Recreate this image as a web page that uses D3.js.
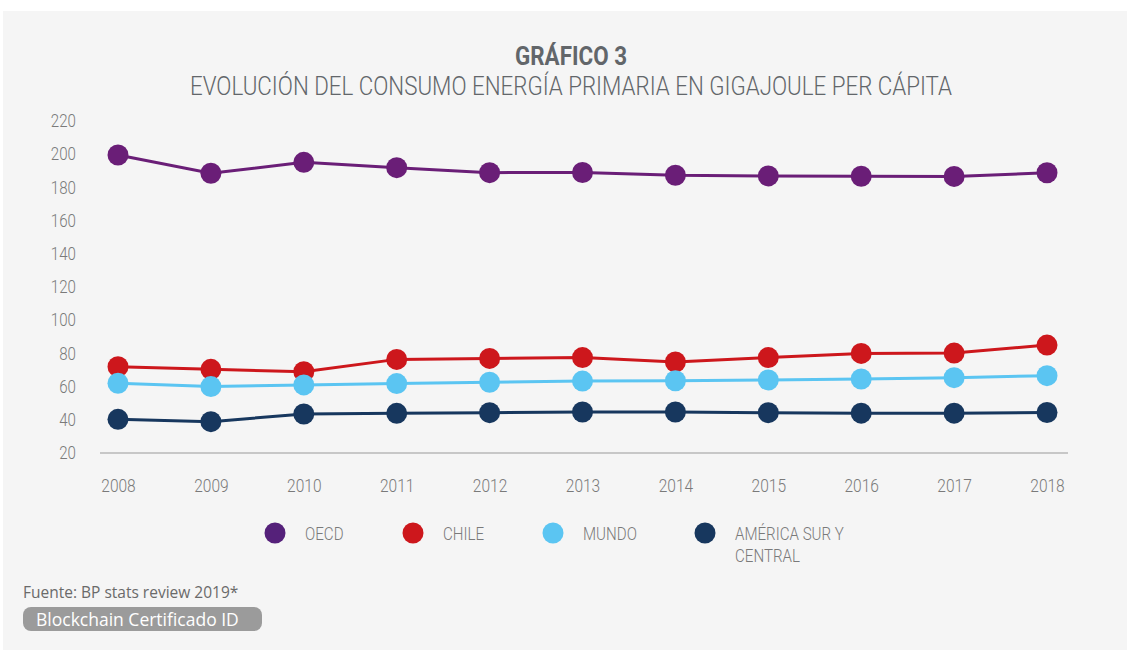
<!DOCTYPE html>
<html><head><meta charset="utf-8">
<script src="https://cdn.jsdelivr.net/npm/d3@7"></script>
<style>
html,body{margin:0;padding:0;background:#fff;}
svg{display:block;}
</style></head>
<body>
<svg id="c" width="1127" height="650"></svg>
<script>
const years = [2008,2009,2010,2011,2012,2013,2014,2015,2016,2017,2018];
const oecd    = [199.5,188.5,195.1,191.9,188.9,189.0,187.3,186.9,186.7,186.6,188.8];
const chile   = [72.0,70.4,69.0,76.4,77.0,77.5,74.8,77.5,80.0,80.2,85.0];
const mundo   = [62.0,60.0,61.0,61.8,62.6,63.3,63.5,64.0,64.6,65.4,66.6];
const america = [40.3,38.9,43.5,43.9,44.3,44.7,44.7,44.3,44.0,44.0,44.4];
const yTicks = [20,40,60,80,100,120,140,160,180,200,220];
const seriesNames = ["OECD","CHILE","MUNDO","AMÉRICA SUR Y CENTRAL"];
const seriesColors = ["#6a1e77","#cd171c","#5bc5f2","#17375e"];
const legendColors = ["#55217a","#cd171c","#5bc5f2","#17375e"];
const seriesData = [oecd, chile, mundo, america];

const svg = d3.select("#c");
const cf = "Roboto, sans-serif";
const SX = 0.84;

svg.append("rect").attr("x",3).attr("y",11).attr("width",1124).attr("height",639).attr("fill","#f5f5f5");

svg.append("text").attr("x",571).attr("y",65).attr("text-anchor","middle")
  .attr("font-family",cf).attr("font-weight","bold").attr("font-size",25)
  .attr("textLength",112).attr("lengthAdjust","spacingAndGlyphs")
  .attr("fill","#62666a").text("GRÁFICO 3");
svg.append("text").attr("x",571).attr("y",95).attr("text-anchor","middle")
  .attr("font-family",cf).attr("font-weight",300).attr("font-size",25)
  .attr("textLength",762).attr("lengthAdjust","spacingAndGlyphs")
  .attr("fill","#62666a").text("EVOLUCIÓN DEL CONSUMO ENERGÍA PRIMARIA EN GIGAJOULE PER CÁPITA");

const x = d3.scalePoint().domain(years).range([118,1047]);
const y = d3.scaleLinear().domain([20,220]).range([453,121]);

svg.append("line").attr("x1",100).attr("x2",1068).attr("y1",y(20)).attr("y2",y(20))
  .attr("stroke","#9a9a9a").attr("stroke-width",1.2);

const yAxis = d3.axisLeft(y).tickValues(yTicks).tickSize(0).tickPadding(0);
const gy = svg.append("g").attr("transform","translate(76,0)").call(yAxis);
gy.select(".domain").remove();
gy.selectAll("text").attr("font-family",cf).attr("font-weight",300).attr("font-size",18).attr("fill","#7a7a7a")
  .attr("transform",`scale(${SX},1)`);

const xAxis = d3.axisBottom(x).tickSize(0).tickPadding(0);
const gx = svg.append("g").attr("transform","translate(0,492)").call(xAxis);
gx.select(".domain").remove();
gx.selectAll("text").attr("y",0).attr("dy",0).attr("font-family",cf).attr("font-weight",300).attr("font-size",18.5)
  .attr("fill","#7a7a7a").attr("transform",`scale(${SX},1)`);

const line = d3.line().x((d,i)=>x(years[i])).y(d=>y(d));
seriesData.forEach((s,k)=>{
  svg.append("path").datum(s).attr("d",line).attr("fill","none")
    .attr("stroke",seriesColors[k]).attr("stroke-width",3);
  svg.append("g").selectAll("circle").data(s).join("circle")
    .attr("cx",(d,i)=>x(years[i])).attr("cy",d=>y(d)).attr("r",10.5)
    .attr("fill",seriesColors[k]);
});

const legX = [275,413,553,705];
seriesNames.forEach((n,k)=>{
  svg.append("circle").attr("cx",legX[k]).attr("cy",533).attr("r",10.5).attr("fill",legendColors[k]);
  const g = svg.append("g").attr("transform",`translate(${legX[k]+30},540) scale(${SX},1)`);
  const t = g.append("text").attr("x",0).attr("y",0)
    .attr("font-family",cf).attr("font-weight",300).attr("font-size",18).attr("fill","#7a7a7a");
  if (k===3) {
    t.append("tspan").attr("x",0).attr("y",0).text("AMÉRICA SUR Y");
    t.append("tspan").attr("x",0).attr("y",22).text("CENTRAL");
  } else t.text(n);
});

svg.append("text").attr("x",23).attr("y",598).attr("font-family","'Open Sans',sans-serif")
  .attr("font-size",15.5).attr("fill","#6a6a6a").text("Fuente: BP stats review 2019*");
svg.append("rect").attr("x",23).attr("y",607).attr("width",239).attr("height",24).attr("rx",8)
  .attr("fill","#9b9b9b");
svg.append("text").attr("x",36).attr("y",626).attr("font-family","'Open Sans',sans-serif")
  .attr("font-size",17.5).attr("fill","#ffffff").text("Blockchain Certificado ID");
</script>
</body></html>
